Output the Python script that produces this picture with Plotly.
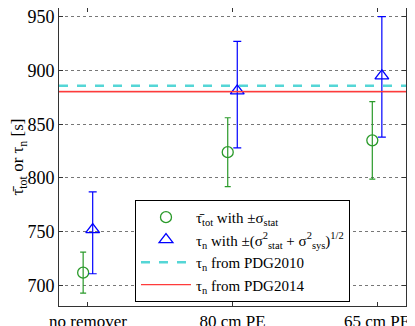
import plotly.graph_objects as go

categories = ["no remover", "80 cm PE", "65 cm PE"]
cat_pos = [0, 1, 2]

tau_tot = [712, 824, 835]
tau_tot_err = [19, 32, 36]

tau_n = [752, 881, 895]
tau_n_err_plus = [35, 46, 55]
tau_n_err_minus = [41, 53, 57]

pdg2010 = 885.7
pdg2014 = 880.3
pdg2014_err = 1.1

x_range = [-0.2, 2.2]
offset = 0.033

green = "#2a9a2a"
blue = "#0000ff"
cyan = "#55d6d6"
red = "#ff3b3b"
serif = "Liberation Serif"

fig = go.Figure()

# PDG2014 band behind the line
fig.add_trace(go.Scatter(
    x=x_range, y=[pdg2014 + pdg2014_err] * 2,
    mode="lines", line=dict(width=0, color="rgba(0,0,0,0)"),
    showlegend=False, hoverinfo="skip"
))
fig.add_trace(go.Scatter(
    x=x_range, y=[pdg2014 - pdg2014_err] * 2,
    mode="lines", line=dict(width=0, color="rgba(0,0,0,0)"),
    fill="tonexty", fillcolor="rgba(240,130,130,0.55)",
    showlegend=False, hoverinfo="skip"
))

fig.add_trace(go.Scatter(
    x=[p - offset for p in cat_pos], y=tau_tot,
    mode="markers",
    marker=dict(symbol="circle-open", size=11, color=green, line=dict(width=1.3)),
    error_y=dict(type="data", array=tau_tot_err, color=green, thickness=1.2, width=3),
    name="τ̄<sub>tot</sub> with ±σ<sub>stat</sub>"
))
fig.add_trace(go.Scatter(
    x=[p + offset for p in cat_pos], y=tau_n,
    mode="markers",
    marker=dict(symbol="triangle-up-open", size=12, color=blue, line=dict(width=1.3)),
    error_y=dict(type="data", symmetric=False, array=tau_n_err_plus,
                 arrayminus=tau_n_err_minus, color=blue, thickness=1.2, width=4),
    name="τ<sub>n</sub> with ±(σ<sup>2</sup><sub>stat</sub> + σ<sup>2</sup><sub>sys</sub>)<sup>1/2</sup>"
))
fig.add_trace(go.Scatter(
    x=x_range, y=[pdg2010] * 2,
    mode="lines", line=dict(color=cyan, width=2.5, dash="dash"),
    name="τ<sub>n</sub> from PDG2010"
))
fig.add_trace(go.Scatter(
    x=x_range, y=[pdg2014] * 2,
    mode="lines", line=dict(color=red, width=1.2),
    name="τ<sub>n</sub> from PDG2014"
))

# page body adds ~8px on top/left, so margins are set 8px smaller there
fig.update_layout(
    width=415, height=326,
    margin=dict(l=51, r=17, t=0, b=28),
    plot_bgcolor="white", paper_bgcolor="white",
    font=dict(family=serif, size=18, color="black"),
    legend=dict(
        x=0.219, y=0.356, xanchor="left", yanchor="top",
        bgcolor="white", bordercolor="black", borderwidth=1,
        font=dict(family=serif, size=15), itemwidth=50,
        traceorder="normal", tracegroupgap=0
    ),
    xaxis=dict(
        range=x_range, tickvals=cat_pos, ticktext=categories,
        showgrid=False, zeroline=False, automargin=False,
        ticklabeloverflow="allow",
        showline=True, linecolor="#333", linewidth=1, mirror="ticks",
        ticks="inside", ticklen=4, tickcolor="#333",
        tickfont=dict(family=serif, size=17)
    ),
    yaxis=dict(
        range=[681, 958], tickvals=[700, 750, 800, 850, 900, 950],
        showgrid=True, gridcolor="#777", griddash="dot", gridwidth=1,
        zeroline=False, automargin=False,
        ticklabeloverflow="allow",
        showline=True, linecolor="#333", linewidth=1, mirror="ticks",
        ticks="inside", ticklen=4, tickcolor="#333",
        tickfont=dict(family=serif, size=18),
        title=dict(text="τ̄<sub>tot</sub> or τ<sub>n</sub> [s]", standoff=2,
                   font=dict(family=serif, size=17))
    )
)

fig.write_html("out.html")
